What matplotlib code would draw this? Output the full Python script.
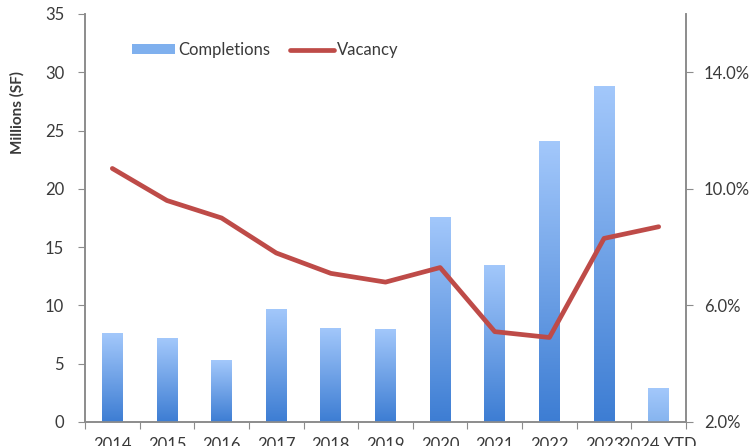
import matplotlib.pyplot as plt
import numpy as np
from matplotlib.colors import LinearSegmentedColormap
from matplotlib.patches import Patch
from matplotlib.lines import Line2D

# data
years = ['2014', '2015', '2016', '2017', '2018', '2019', '2020', '2021', '2022', '2023', '2024 YTD']
completions = [7.6, 7.2, 5.3, 9.7, 8.1, 8.0, 17.6, 13.5, 24.1, 28.8, 2.9]  # millions SF
vacancy = [10.7, 9.6, 9.0, 7.8, 7.1, 6.8, 7.3, 5.1, 4.9, 8.3, 8.7]  # percent

plt.rcParams['font.family'] = ['Lato', 'DejaVu Sans']
text_col = '#3a3a3a'
spine_col = '#8c8c8c'
bar_light = '#a3c8fb'
bar_dark = '#3d7dd3'
line_col = '#be4b48'

fig = plt.figure(figsize=(7.52, 4.46), dpi=100)
ax = fig.add_axes([85 / 752, 1 - 422 / 446, 601 / 752, 408 / 446])
ax2 = ax.twinx()

x = np.arange(len(years))

# bars with a vertical gradient (light top, darker bottom)
bars = ax.bar(x, completions, width=0.38, color=bar_light, zorder=2)
cmap = LinearSegmentedColormap.from_list('grad', [bar_dark, bar_light])
grad = np.linspace(0, 1, 256).reshape(-1, 1)
for i, b in enumerate(bars):
    x0, w, h = b.get_x(), b.get_width(), b.get_height()
    cm = cmap if i < len(bars) - 1 else LinearSegmentedColormap.from_list('g2', ['#86b4ef', bar_light])
    im = ax.imshow(grad, cmap=cm, origin='lower', aspect='auto',
                   extent=(x0, x0 + w, 0, h), zorder=3)
    im.set_clip_path(b)

ax.set_xlim(-0.5, len(years) - 0.5)
ax.set_ylim(0, 35)
ax.set_yticks(range(0, 36, 5))

# category boundary ticks, labels centered between them
ax.set_xticks(np.arange(-0.5, len(years), 1.0))
ax.set_xticklabels([])
ax.set_xticks(x, minor=True)
ax.set_xticklabels(years, minor=True)
ax.tick_params(axis='x', which='major', length=5, color=spine_col, direction='out')
ax.tick_params(axis='x', which='minor', length=0, pad=11, labelsize=12, labelcolor=text_col)
ax.tick_params(axis='y', length=5, color=spine_col, labelsize=12, labelcolor=text_col, pad=10)

# vacancy line on the right axis
ax2.plot(x, vacancy, color=line_col, lw=3.4, solid_capstyle='round', solid_joinstyle='round', zorder=5)
ax2.set_ylim(2, 16)
ax2.set_yticks([2, 6, 10, 14])
ax2.set_yticklabels([f'{v:.1f}%' for v in [2, 6, 10, 14]])
ax2.tick_params(axis='y', length=5, color=spine_col, labelsize=12, labelcolor=text_col, pad=8)

for a in (ax, ax2):
    a.spines['top'].set_visible(False)
    for s in ('left', 'right', 'bottom'):
        a.spines[s].set_color(spine_col)
        a.spines[s].set_linewidth(1.2)

fig.text(17 / 752, 1 - 112 / 446, 'Millions (SF)', rotation=90, ha='center', va='center',
         fontsize=11, fontweight='bold', color=text_col)

handles = [Patch(facecolor='#7fb0ee', edgecolor='none'),
           Line2D([0], [0], color=line_col, lw=3.4, solid_capstyle='round')]
ax.legend(handles, ['Completions', 'Vacancy'], ncol=2, frameon=False, loc='center',
          bbox_to_anchor=(0.30, 0.912), fontsize=12, handlelength=2.6, handleheight=0.5,
          handletextpad=0.2, columnspacing=1.2, labelcolor=text_col)

fig.savefig('out.png', dpi=100)
